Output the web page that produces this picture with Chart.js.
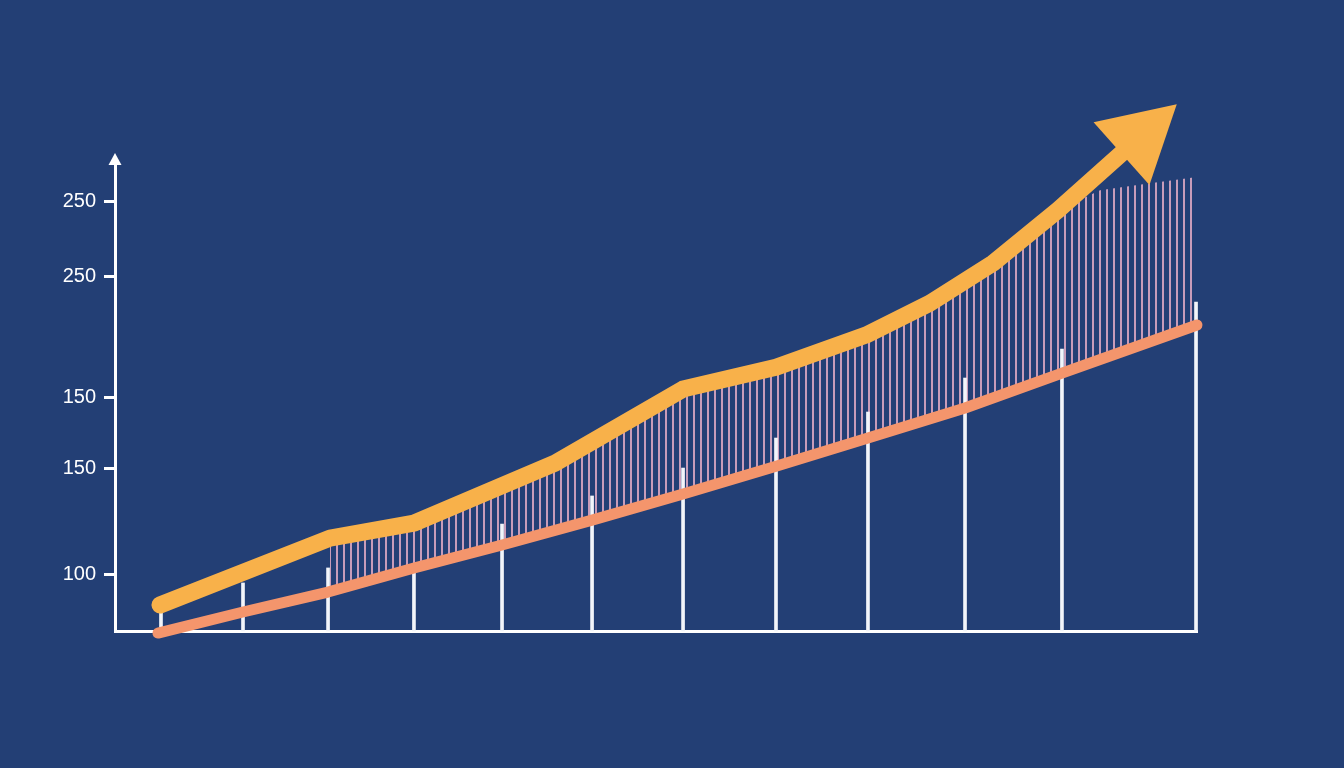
<!DOCTYPE html>
<html>
<head>
<meta charset="utf-8">
<script src="https://cdn.jsdelivr.net/npm/chart.js@4/dist/chart.umd.min.js"></script>
<style>
    html, body { margin: 0; padding: 0; background: #233f75; }
    .wrap { width: 1344px; height: 768px; position: relative; }
</style>
</head>
<body>
<div class="wrap"><canvas id="Chart"></canvas></div>
<script>
// axis ranges
let xMin = 0, xMax = 100;
let yMin = 70, yMax = 318;

// y tick positions and the labels printed beside them
let tickValues = [296.3, 256.8, 193.2, 155.8, 100];
let tickLabels = ["250", "250", "150", "150", "100"];

// thin white columns
let barX = [4.25, 11.83, 19.69, 27.63, 35.77, 44.09, 52.5, 61.09, 69.59, 78.56, 87.52, 99.91];
let barValues = [80.0, 95.3, 103.2, 102.1, 126.3, 141.1, 155.8, 171.6, 185.3, 203.2, 218.4, 243.2];

// salmon base line
let baseX = [3.97, 11.83, 19.69, 27.63, 35.77, 44.09, 52.5, 61.09, 69.59, 78.56, 87.52, 100];
let baseValues = [68.9, 80.0, 90.5, 103.2, 115.3, 128.4, 142.1, 156.8, 171.6, 187.4, 205.8, 231.1];

// orange trend line (ends in arrow)
let trendX = [4.16, 19.87, 27.63, 40.67, 52.5, 61.09, 69.41, 75.32, 81.15, 87.15, 93.16];
let trendValues = [83.7, 118.9, 126.8, 158.4, 197.4, 208.9, 225.8, 242.6, 263.7, 291.6, 322.1];

// upper edge of the hatched band
let bandX = [19.87, 27.63, 40.67, 52.5, 61.09, 69.41, 75.32, 81.15, 87.15, 91.04, 95.66, 100];
let bandValues = [118.9, 126.8, 158.4, 197.4, 208.9, 225.8, 242.6, 263.7, 291.6, 302.1, 305.8, 309.0];

function toPoints(xs, ys) {
    return xs.map(function (x, i) {
        return { x: x, y: ys[i] };
    });
}

document.addEventListener("DOMContentLoaded", function () {
    var canvas = document.getElementById("Chart");
    var ctx = canvas.getContext("2d");

    // vertical stripe pattern for the band
    var tile = document.createElement("canvas");
    tile.width = 7;
    tile.height = 8;
    var tctx = tile.getContext("2d");
    tctx.fillStyle = "#c89cba";
    tctx.fillRect(0, 0, 2, 8);
    var hatch = ctx.createPattern(tile, "repeat");

    // arrow heads on y axis and on the trend line
    var arrows = {
        id: "arrows",
        afterDatasetsDraw: function (chart) {
            var c = chart.ctx;
            var area = chart.chartArea;
            c.save();
            c.fillStyle = "#ffffff";
            c.beginPath();
            c.moveTo(area.left, area.top - 7);
            c.lineTo(area.left - 6.5, area.top + 5);
            c.lineTo(area.left + 6.5, area.top + 5);
            c.closePath();
            c.fill();

            var pts = chart.getDatasetMeta(0).data;
            var p1 = pts[pts.length - 1];
            var p0 = pts[pts.length - 2];
            var dx = p1.x - p0.x;
            var dy = p1.y - p0.y;
            var len = Math.sqrt(dx * dx + dy * dy);
            dx /= len;
            dy /= len;
            var bx = p1.x - dx * 2;
            var by = p1.y - dy * 2;
            c.fillStyle = "#f8b14a";
            c.beginPath();
            c.moveTo(p1.x + dx * 72, p1.y + dy * 72);
            c.lineTo(bx - dy * 42, by + dx * 42);
            c.lineTo(bx + dy * 42, by - dx * 42);
            c.closePath();
            c.fill();
            c.restore();
        },
    };

    new Chart(ctx, {
        type: "line",
        data: {
            datasets: [
                {
                    label: "trend",
                    data: toPoints(trendX, trendValues),
                    borderColor: "#f8b14a",
                    borderWidth: 17,
                    borderCapStyle: "round",
                    borderJoinStyle: "round",
                    pointRadius: 0,
                    tension: 0,
                    fill: false,
                    clip: false,
                    order: 0,
                },
                {
                    label: "base",
                    data: toPoints(baseX, baseValues),
                    borderColor: "#f4956c",
                    borderWidth: 11,
                    borderCapStyle: "round",
                    borderJoinStyle: "round",
                    pointRadius: 0,
                    tension: 0,
                    fill: false,
                    clip: false,
                    order: 1,
                },
                {
                    type: "bar",
                    label: "columns",
                    data: toPoints(barX, barValues),
                    base: yMin,
                    backgroundColor: "#f2f5fa",
                    borderWidth: 0,
                    barThickness: 3,
                    grouped: false,
                    clip: false,
                    order: 2,
                },
                {
                    label: "band",
                    data: toPoints(bandX, bandValues),
                    borderWidth: 0,
                    borderColor: "rgba(0,0,0,0)",
                    backgroundColor: hatch,
                    pointRadius: 0,
                    tension: 0,
                    fill: { target: 1 },
                    order: 3,
                },
            ],
        },
        options: {
            responsive: true,
            maintainAspectRatio: false,
            animation: false,
            layout: {
                padding: { top: 160, right: 147, bottom: 137, left: 0 },
            },
            scales: {
                x: {
                    type: "linear",
                    min: xMin,
                    max: xMax,
                    offset: false,
                    ticks: { display: false },
                    grid: { display: false, drawTicks: false },
                    border: { display: true, color: "#ffffff", width: 3 },
                    afterFit: function (scale) {
                        scale.height = 0;
                    },
                },
                y: {
                    type: "linear",
                    min: yMin,
                    max: yMax,
                    afterBuildTicks: function (scale) {
                        scale.ticks = tickValues.map(function (v) {
                            return { value: v };
                        });
                    },
                    afterFit: function (scale) {
                        scale.width = 115;
                    },
                    ticks: {
                        autoSkip: false,
                        padding: 8,
                        color: "#ffffff",
                        font: { family: "'Liberation Sans', Arial, sans-serif", size: 20 },
                        callback: function (value, index) {
                            return tickLabels[index];
                        },
                    },
                    grid: {
                        drawOnChartArea: false,
                        drawTicks: true,
                        tickLength: 11,
                        color: "#ffffff",
                        lineWidth: 3,
                    },
                    border: { display: true, color: "#ffffff", width: 3 },
                },
            },
            plugins: {
                legend: { display: false },
                title: { display: false },
                tooltip: { enabled: false },
            },
        },
        plugins: [arrows],
    });
});
</script>
</body>
</html>
